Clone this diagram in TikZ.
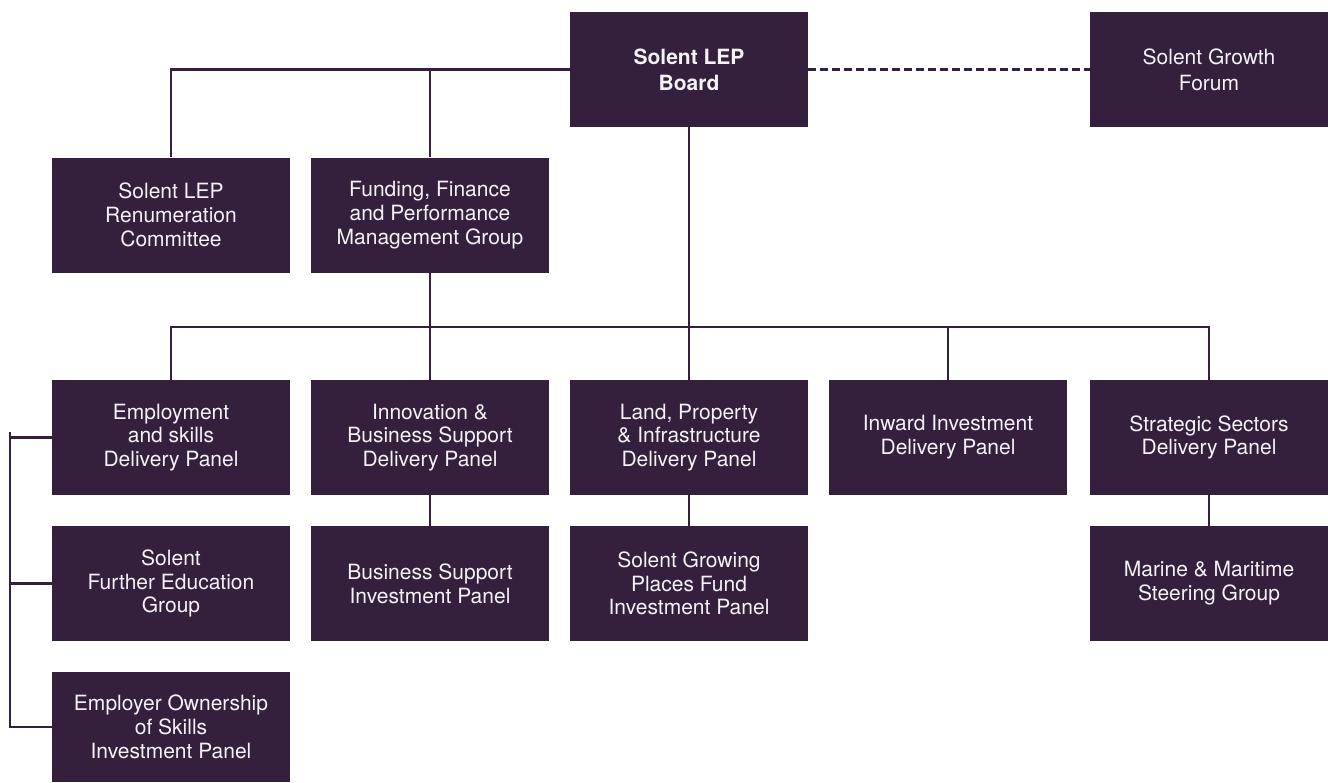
\documentclass[tikz,border=0pt]{standalone}
\usepackage{fontspec}
\setmainfont{TeX Gyre Heros}
\definecolor{boxc}{HTML}{34203C}
\definecolor{txtc}{HTML}{F4F2F5}
\begin{document}
\begin{tikzpicture}[x=1pt,y=-1pt,
  orgbox/.style={fill=boxc,draw=none,inner sep=0pt,minimum width=238pt,minimum height=115pt,
     align=center,text=txtc,font=\fontsize{21}{23.8}\selectfont},
  link/.style={draw=boxc,line width=2.1pt},
  dlink/.style={draw=boxc,line width=2.1pt,dash pattern=on 8pt off 4pt}]
\useasboundingbox (0,0) rectangle (1328,782);
% row 1
\node[orgbox,font=\fontsize{21}{26}\selectfont\bfseries] (board) at (689,69.5) {Solent LEP\\Board};
\node[orgbox,font=\fontsize{21}{26}\selectfont] (forum) at (1209,69.5) {Solent Growth\\Forum};
% row 2
\node[orgbox] (rem) at (171,215) {Solent LEP\\Renumeration\\Committee};
\node[orgbox] (ffp) at (430,215) {Funding, Finance\\and Performance\\Management Group};
% row 3
\node[orgbox] (emp) at (171,437.5) {Employment\\and skills\\Delivery Panel};
\node[orgbox] (innov) at (430,437.5) {Innovation \&\\Business Support\\Delivery Panel};
\node[orgbox] (land) at (689,437.5) {Land, Property\\\& Infrastructure\\Delivery Panel};
\node[orgbox] (inward) at (948,437.5) {Inward Investment\\Delivery Panel};
\node[orgbox] (strat) at (1209,437.5) {Strategic Sectors\\Delivery Panel};
% row 4
\node[orgbox] (fe) at (171,583.5) {Solent\\Further Education\\Group};
\node[orgbox] (bsip) at (430,583.5) {Business Support\\Investment Panel};
\node[orgbox] (gpf) at (689,583.5) {Solent Growing\\Places Fund\\Investment Panel};
\node[orgbox] (marine) at (1209,583.5) {Marine \& Maritime\\Steering Group};
% row 5
\node[orgbox,minimum height=110pt] (eosip) at (171,727) {Employer Ownership\\of Skills\\Investment Panel};
% connectors
\draw[link] (board.west) -| (rem.north);
\draw[link] (ffp.north) -- (ffp.north |- board.west);
\draw[dlink] (board.east) -- (forum.west);
\draw[link] (board.south) -- (land.north);
\coordinate (barL) at (171,327);
\draw[link] (emp.north) -- (barL) -| (strat.north);
\draw[link] (ffp.south) -- (innov.north);
\draw[link] (inward.north) -- (inward.north |- barL);
\draw[link] (innov.south) -- (bsip.north);
\draw[link] (land.south) -- (gpf.north);
\draw[link] (strat.south) -- (marine.north);
% bracket
\coordinate (bt) at (10,432);
\coordinate (bb) at (10,728);
\draw[link] (bt) -- (bb);
\draw[link] (emp.west) -- (emp.west -| bt);
\draw[link] (fe.west) -- (fe.west -| bt);
\draw[link] (eosip.west) -- ([xshift=-1.05pt]eosip.west -| bb);
\end{tikzpicture}
\end{document}
